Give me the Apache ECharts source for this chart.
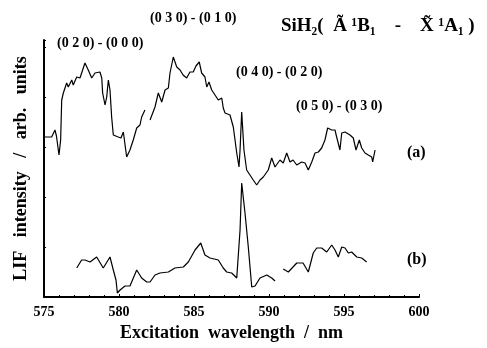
<!DOCTYPE html>
<html><head><meta charset="utf-8">
<script src="https://cdn.jsdelivr.net/npm/echarts@6/dist/echarts.min.js"></script>
<style>html,body{margin:0;padding:0;background:#fff}#c{width:487px;height:348px}</style>
</head><body><div id="c"></div>
<script>
// Spectrum (a): wavelength (nm) and LIF intensity (arb. units)
const waveA = [575.00,575.51,575.73,575.83,576.00,576.11,576.18,576.29,576.51,576.62,576.85,576.95,577.18,577.40,577.73,577.95,578.18,578.40,578.73,578.85,578.91,579.07,579.18,579.29,579.40,579.51,579.62,579.95,580.13,580.29,580.51,580.73,580.95,581.18,581.40,581.51,581.73,581.90,582.07,582.40,582.62,582.85,583.07,583.29,583.40,583.62,583.85,584.07,584.27,584.51,584.73,584.95,585.13,585.35,585.51,585.73,585.85,586.00,586.18,586.40,586.62,586.85,586.95,587.07,587.40,587.62,587.85,588.00,588.07,588.18,588.33,588.51,588.95,589.18,589.40,589.62,589.95,590.18,590.40,590.73,590.95,591.18,591.40,591.60,591.85,592.18,592.40,592.62,592.85,593.07,593.29,593.51,593.73,593.91,594.18,594.40,594.51,594.73,594.85,595.07,595.40,595.62,595.80,596.02,596.18,596.40,596.62,596.85,596.91,597.07];
const intensityA = [160,160,167,161,142,157,197,204,214,210,217,212,220,219,234,227,219,224,225,219,204,192,200,217,207,180,162,160,159,165,140,147,157,169,172,180,187,null,177,190,204,195,207,209,224,240,230,227,222,219,225,225,231,235,224,220,210,215,207,202,197,199,189,184,182,170,144,130,147,185,147,127,117,112,117,120,127,139,130,137,134,144,135,137,132,135,134,127,135,144,145,149,157,169,167,167,160,147,164,165,162,159,147,157,149,144,142,140,135,147];
// Spectrum (b)
const waveB = [577.18,577.51,577.73,578.07,578.51,578.95,579.40,579.62,579.80,579.89,580.07,580.40,580.73,581.18,581.51,581.85,582.07,582.40,582.73,583.29,583.73,584.29,584.62,585.07,585.45,585.73,586.07,586.62,586.95,587.18,587.51,587.85,587.97,588.07,588.18,588.40,588.62,588.85,589.07,589.40,589.85,590.18,590.40,590.70,590.95,591.29,591.85,592.27,592.62,592.95,593.18,593.51,593.85,594.18,594.40,594.62,594.85,595.07,595.29,595.51,595.85,596.18,596.51];
const intensityB = [29,37,37,35,40,29,40,27,17,4,7,11,11,27,19,15,15,22,24,25,29,30,35,47,54,42,39,37,29,25,24,19,17,67,114,84,50,10,11,19,22,19,16,null,28,25,34,34,25,44,49,49,45,52,47,40,50,49,44,45,40,39,35];
const xTicks = [575,580,585,590,595,600];
const labels = {
  a: '(a)', b: '(b)',
  t1: '(0 2 0) - (0 0 0)', t2: '(0 3 0) - (0 1 0)', t3: '(0 4 0) - (0 2 0)', t4: '(0 5 0) - (0 3 0)',
  title: 'SiH\u2082(  A\u0303 \u00b9B\u2081    -    X\u0303 \u00b9A\u2081 )'
};

const pairs = (xs, ys) => xs.map((x, i) => [x, ys[i]]);
const serif = '"Liberation Serif","DejaVu Serif",serif';
const chart = echarts.init(document.getElementById('c'));
const txt = (x, y, s, size) => ({type:'text', left:x, top:y, style:{text:s, font:'bold '+(size||12)+'px '+serif, fill:'#000'}});
chart.setOption({
  animation:false,
  grid:{left:44, right:68, top:40, bottom:51},
  xAxis:{type:'value', min:575, max:600, interval:5,
    name:'Excitation  wavelength  /  nm', nameLocation:'middle', nameGap:26,
    nameTextStyle:{fontFamily:serif, fontWeight:'bold', fontSize:18, color:'#000'},
    axisLine:{lineStyle:{color:'#000', width:2}},
    axisTick:{show:true, inside:true, length:3, lineStyle:{color:'#000'}},
    minorTick:{show:true, splitNumber:5, length:2, lineStyle:{color:'#000'}},
    axisLabel:{fontFamily:serif, fontWeight:'bold', fontSize:14, color:'#000', margin:8,
      formatter:v => xTicks.includes(v) ? String(v) : ''},
    splitLine:{show:false}},
  yAxis:{type:'value', min:0, max:257,
    name:'LIF   intensity   /   arb.   units', nameLocation:'middle', nameGap:14,
    nameTextStyle:{fontFamily:serif, fontWeight:'bold', fontSize:18, color:'#000'},
    axisLine:{show:true, lineStyle:{color:'#000', width:2}},
    axisTick:{show:true, inside:true, length:2, lineStyle:{color:'#000'}},
    axisLabel:{show:false}, splitLine:{show:false}},
  series:[
    {type:'line', data:pairs(waveA, intensityA), showSymbol:false, connectNulls:false,
      lineStyle:{color:'#000', width:1.2}},
    {type:'line', data:pairs(waveB, intensityB), showSymbol:false, connectNulls:false,
      lineStyle:{color:'#000', width:1.2}}
  ],
  graphic:[
    txt(57, 36, labels.t1, 14),
    txt(150, 11, labels.t2, 14),
    txt(236, 65, labels.t3, 14),
    txt(296, 99, labels.t4, 14),
    txt(281, 17, labels.title, 19),
    txt(407, 145, labels.a, 16),
    txt(407, 252, labels.b, 16)
  ]
});
</script></body></html>
